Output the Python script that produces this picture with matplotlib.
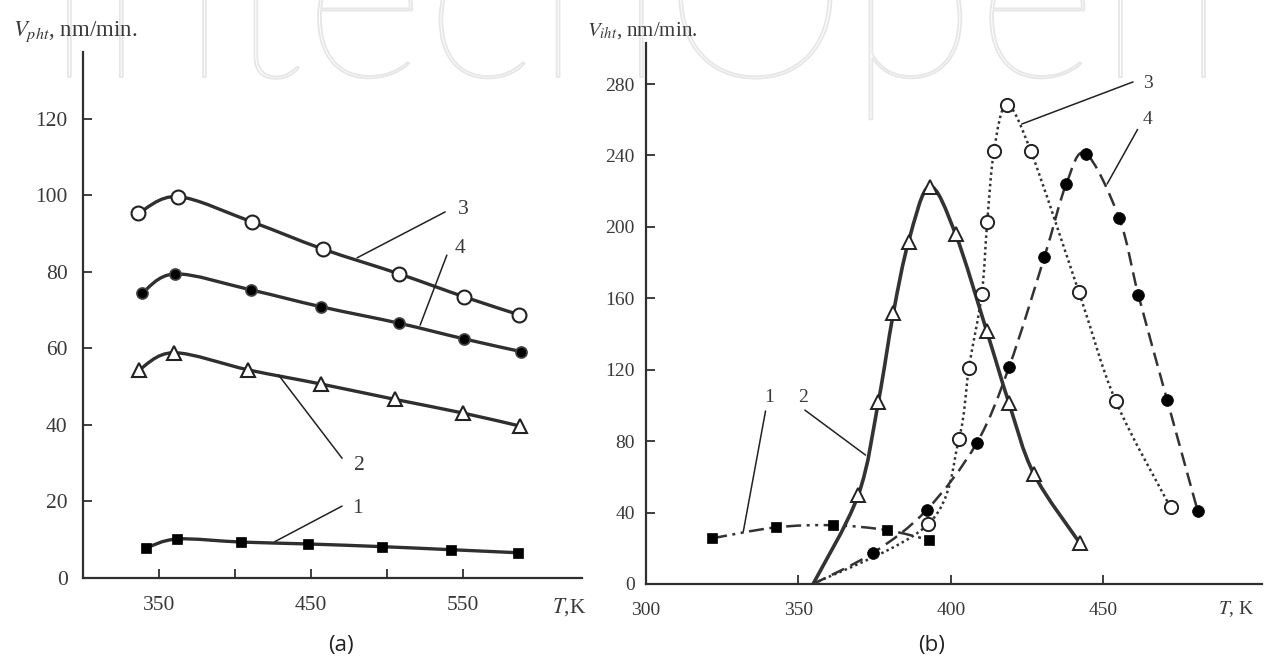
import numpy as np
import matplotlib
matplotlib.use('Agg')
import matplotlib.pyplot as plt
from matplotlib.path import Path
from matplotlib.patches import PathPatch
from matplotlib.textpath import TextPath
from matplotlib.font_manager import FontProperties
from matplotlib.transforms import Affine2D, IdentityTransform

# ---------------- data: panel (a) ----------------
a_T1 = [341.7, 362.2, 403.9, 447.9, 496.6, 542.2, 586.5]
a_V1 = [7.9, 10.2, 9.4, 8.9, 8.2, 7.4, 6.6]
a_T2 = [336.9, 359.9, 408.9, 456.8, 505.3, 550.5, 587.9]
a_V2 = [54.4, 58.9, 54.4, 50.7, 46.7, 43.1, 39.7]
a_T3 = [336.4, 362.4, 411.1, 457.9, 508.2, 551.0, 587.2]
a_V3 = [95.3, 99.7, 93.1, 86.0, 79.5, 73.5, 68.8]
a_T4 = [338.7, 360.8, 410.7, 456.8, 508.2, 551.0, 588.3]
a_V4 = [74.4, 79.5, 75.3, 70.9, 66.6, 62.5, 59.2]
a_xticks = [350, 400, 450, 500, 550]
a_xticklabels = ['350', '', '450', '', '550']
a_yticks = [0, 20, 40, 60, 80, 100, 120]

# ---------------- data: panel (b) ----------------
b_T1 = [321.7, 342.5, 361.2, 378.9, 392.9]
b_V1 = [25.6, 31.7, 32.9, 30.2, 24.6]
b_T2 = [369.6, 376.2, 381.1, 386.1, 393.0, 401.5, 411.7, 419.0, 427.2, 442.3]
b_V2 = [49.8, 102.1, 151.6, 191.7, 222.6, 196.0, 141.8, 101.5, 61.6, 22.8]
b_T3 = [392.6, 402.6, 405.9, 410.1, 411.9, 414.1, 418.3, 426.2, 442.0, 454.0, 472.0]
b_V3 = [33.6, 81.0, 121.1, 162.4, 202.9, 242.4, 268.2, 242.4, 163.3, 102.6, 42.9]
b_T4 = [374.5, 392.0, 408.4, 419.1, 430.6, 437.8, 444.2, 455.2, 461.5, 470.9, 480.9]
b_V4 = [17.5, 41.4, 78.8, 121.7, 182.9, 224.0, 241.1, 204.8, 161.6, 103.0, 41.0]
b_onset_T = 354.8   # curves 2-4 start from zero rate here
b_xticks = [300, 350, 400, 450]
b_yticks = [0, 40, 80, 120, 160, 200, 240, 280]

INK = '#2f2f2f'
TXT = '#3a3a3a'
SERIF = ['Liberation Serif', 'DejaVu Serif']
plt.rcParams['mathtext.fontset'] = 'stix'
plt.rcParams['font.family'] = SERIF


def smooth_path(xs, ys):
    """Catmull-Rom spline through the points, expressed as cubic Bezier path."""
    P = np.column_stack([xs, ys]).astype(float)
    n = len(P)
    ext = np.vstack([P[0], P, P[-1]])
    verts = [P[0]]
    codes = [Path.MOVETO]
    for i in range(n - 1):
        p0, p1, p2, p3 = ext[i], ext[i + 1], ext[i + 2], ext[i + 3]
        c1 = p1 + (p2 - p0) / 6.0
        c2 = p2 - (p3 - p1) / 6.0
        verts += [c1, c2, p2]
        codes += [Path.CURVE4] * 3
    return Path(verts, codes)


def draw_curve(ax, xs, ys, **kw):
    ax.add_patch(PathPatch(smooth_path(xs, ys), fill=False, capstyle='butt', **kw))


fig = plt.figure(figsize=(12.65, 6.66), dpi=100)

# watermark
fp = FontProperties(family='Lato', weight='light')
tp = TextPath((0, 0), "IntechOpen", size=100, prop=fp)
bb = tp.get_extents()
sx = (1205 - 68) / bb.width
aff = Affine2D().translate(-bb.x0, 0).scale(sx, sx).translate(68, 666 - 77)
fig.add_artist(PathPatch(aff.transform_path(tp), transform=IdentityTransform(),
                         fill=False, ec='#e6e6e6', lw=1.3, zorder=0))

axL = fig.add_axes([83 / 1265, 88 / 666, 499 / 1265, 526 / 666])
axR = fig.add_axes([646 / 1265, 82 / 666, 616 / 1265, 541 / 666])

for ax, fs, ypad in ((axL, 15.5, 11), (axR, 14, 8)):
    ax.set_facecolor('none')
    for s in ('top', 'right'):
        ax.spines[s].set_visible(False)
    for s in ('left', 'bottom'):
        ax.spines[s].set_color(INK)
        ax.spines[s].set_linewidth(1.6)
    ax.tick_params(direction='in', length=6.5, width=1.3, color=INK,
                   labelsize=fs, labelcolor=TXT)
    ax.tick_params(axis='x', pad=13)
    ax.tick_params(axis='y', pad=ypad)

# ---------------- panel (a) ----------------
axL.set_xlim(300, 628.6)
axL.set_ylim(0, 137.5)
axL.set_xticks(a_xticks)
axL.set_xticklabels(a_xticklabels)
axL.set_yticks(a_yticks)

lw_a = 2.4
draw_curve(axL, a_T3, a_V3, ec=INK, lw=lw_a, zorder=2)
draw_curve(axL, a_T4, a_V4, ec=INK, lw=lw_a, zorder=2)
draw_curve(axL, a_T2, a_V2, ec=INK, lw=lw_a, zorder=2)
draw_curve(axL, a_T1, a_V1, ec=INK, lw=lw_a, zorder=2)
axL.plot(a_T3, a_V3, ls='none', marker='o', ms=10, mfc='white', mec='#222', mew=1.5, zorder=3)
axL.plot(a_T4, a_V4, ls='none', marker='o', ms=8, mfc='black', mec='#444', mew=1.2, zorder=3)
axL.plot(a_T2, a_V2, ls='none', marker='^', ms=10, mfc='white', mec='#222', mew=1.5, zorder=3)
axL.plot(a_T1, a_V1, ls='none', marker='s', ms=7.5, mfc='black', mec='black', mew=0.5, zorder=3)

lead = dict(arrowstyle='-', color='#222', lw=1.1, shrinkA=0, shrinkB=0)
for xy, xyt, lab, pos in [((480.5, 83.7), (538.5, 95.7), '3', (550.5, 96.2)),
                          ((522.0, 66.1), (539.6, 84.4), '4', (548.5, 86.2)),
                          ((428.7, 53.1), (470.6, 31.3), '2', (482.3, 29.5)),
                          ((426.3, 9.5), (470.6, 18.8), '1', (481.0, 18.2))]:
    axL.annotate('', xy=xy, xytext=xyt, arrowprops=lead)
    axL.text(pos[0], pos[1], lab, fontsize=15.5, color=TXT, ha='center', va='center')

# ---------------- panel (b) ----------------
axR.set_xlim(300, 502)
axR.set_ylim(0, 303)
axR.set_xticks(b_xticks)
axR.set_yticks(b_yticks)

draw_curve(axR, [b_onset_T] + b_T3, [0] + b_V3, ec='#333', lw=1.8,
           ls=(0, (1.0, 1.3)), zorder=2)
draw_curve(axR, [b_onset_T] + b_T4, [0] + b_V4, ec='#333', lw=1.8,
           ls=(0, (5.5, 2.8)), zorder=2)
draw_curve(axR, [b_onset_T] + b_T2, [0] + b_V2, ec='#333', lw=2.6, zorder=2)
draw_curve(axR, b_T1, b_V1, ec='#333', lw=1.8,
           ls=(0, (6, 2.2, 1.2, 2.2, 1.2, 2.2)), zorder=2)
axR.plot(b_T3, b_V3, ls='none', marker='o', ms=9.5, mfc='white', mec='#222', mew=1.4, zorder=3)
axR.plot(b_T4, b_V4, ls='none', marker='o', ms=8.5, mfc='black', mec='black', mew=0.5, zorder=3)
axR.plot(b_T2, b_V2, ls='none', marker='^', ms=10, mfc='white', mec='#222', mew=1.4, zorder=3)
axR.plot(b_T1, b_V1, ls='none', marker='s', ms=7.5, mfc='black', mec='black', mew=0.5, zorder=3)

for xy, xyt, lab, pos in [((331.9, 29.3), (339.2, 96.9), '1', (340.3, 104.5)),
                          ((372.0, 72.2), (352.1, 97.4), '2', (351.6, 104.5)),
                          ((423.2, 257.6), (459.7, 281.2), '3', (464.5, 280.2)),
                          ((451.2, 224.0), (461.2, 254.6), '4', (464.3, 260.2))]:
    axR.annotate('', xy=xy, xytext=xyt, arrowprops=lead)
    axR.text(pos[0], pos[1], lab, fontsize=14, color=TXT, ha='center', va='center')

# axis titles / unit labels (figure pixel positions)
def fig_text(x, y, s, **kw):
    fig.text(x / 1265, 1 - y / 666, s, **kw)

fig_text(13, 32, r'$V_{pht}$, nm/min.', fontsize=16.5, color=TXT, ha='left', va='center')
fig_text(587, 31, r'$V_{iht}$, nm/min.', fontsize=15, color=TXT, ha='left', va='center')
fig_text(569, 607, r'$T$,K', fontsize=15.5, color=TXT, ha='center', va='center')
fig_text(1236, 609, r'$T$, K', fontsize=14, color=TXT, ha='center', va='center')
fig_text(341, 646, '(a)', fontsize=16, color='#222', ha='center', va='center',
         family=['Open Sans', 'DejaVu Sans'])
fig_text(932, 646, '(b)', fontsize=16, color='#222', ha='center', va='center',
         family=['Open Sans', 'DejaVu Sans'])

fig.savefig('out.png', dpi=100)
